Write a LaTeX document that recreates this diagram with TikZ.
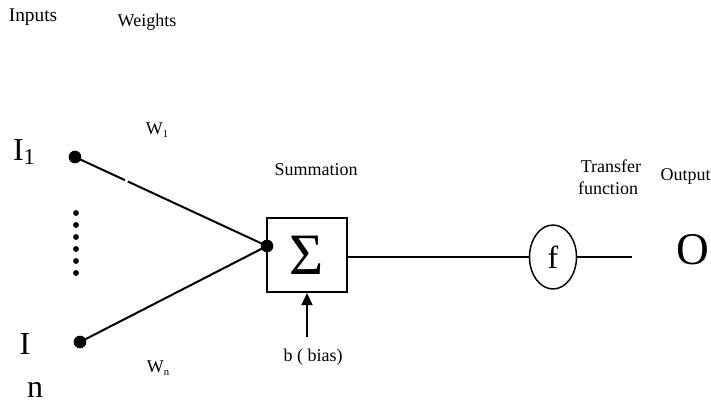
\documentclass[tikz,border=0pt]{standalone}
\usepackage{fontspec}
\setmainfont{Liberation Serif}
\usetikzlibrary{arrows.meta,shapes.geometric,calc}
\begin{document}
\begin{tikzpicture}[x=0.75pt,y=-0.75pt,
  lbl/.style={font=\fontsize{13.5}{15}\selectfont, inner sep=0pt},
  big/.style={font=\fontsize{24}{26}\selectfont, inner sep=0pt},
  wire/.style={line width=1.5pt},
  dotnode/.style={circle, fill=black, inner sep=0pt, minimum size=9.5pt},
  smalldot/.style={circle, fill=black, inner sep=0pt, minimum size=4.4pt}]
\useasboundingbox (0,0) rectangle (711,407);
% box and transfer
\node[draw, line width=1.5pt, minimum width=60pt, minimum height=55.5pt, inner sep=0pt,
      font=\fontsize{44}{46}\selectfont] (box) at (307,255) {Σ};
\node[draw, ellipse, line width=1.1pt, minimum width=35.25pt, minimum height=48pt, inner sep=0pt,
      font=\fontsize{24}{26}\selectfont] (f) at (553,257) {f};
\node[font=\fontsize{34}{36}\selectfont, inner sep=0pt] (o) at (693,250) {O};
\coordinate (oend) at (632,257);
% input dots
\node[dotnode] (i1) at (75,157) {};
\node[dotnode] (in) at (80,342) {};
\node[dotnode] (s) at (267,246) {};
\foreach \k in {0,...,5} {\node[smalldot] (d\k) at (76,{213+12*\k}) {};}
% connectors
\draw[wire] (i1.center) -- ($(i1.center)!0.26!(s.center)$);
\draw[wire] ($(i1.center)!0.275!(s.center)$) -- (s.center);
\draw[wire] (in.center) -- (s.center);
\draw[wire] (f.west -| box.east) -- (f.west);
\draw[wire] (f.east) -- (oend);
\coordinate (b0) at (307,337);
\draw[wire,-{Triangle[length=9pt,width=8pt]}] (b0) -- (box.south);
% labels
\node[lbl, font=\fontsize{14.5}{16}\selectfont] (tin) at (33,17) {Inputs};
\node[lbl] (tw) at (147,22) {Weights};
\node[lbl] (tsum) at (316,170) {Summation};
\node[lbl] (ttr) at (611,166) {Transfer};
\node[lbl] (tfn) at (608,188) {function};
\node[lbl, anchor=east] (tout) at (711,176) {Output};
\node[lbl] (tb) at (313,357) {b ( bias)};
\node[lbl] (w1) at (157,130) {W\raisebox{-0.3ex}{\fontsize{8}{9}\selectfont 1}};
\node[lbl] (wn) at (158,368) {W\raisebox{-0.3ex}{\fontsize{8}{9}\selectfont n}};
\node[big] (ti1) at (24,152) {I\raisebox{-0.3ex}{\fontsize{17}{19}\selectfont 1}};
\node[big] (tin1) at (25,344) {I};
\node[big] (tin2) at (35,390) {n};
\end{tikzpicture}
\end{document}
